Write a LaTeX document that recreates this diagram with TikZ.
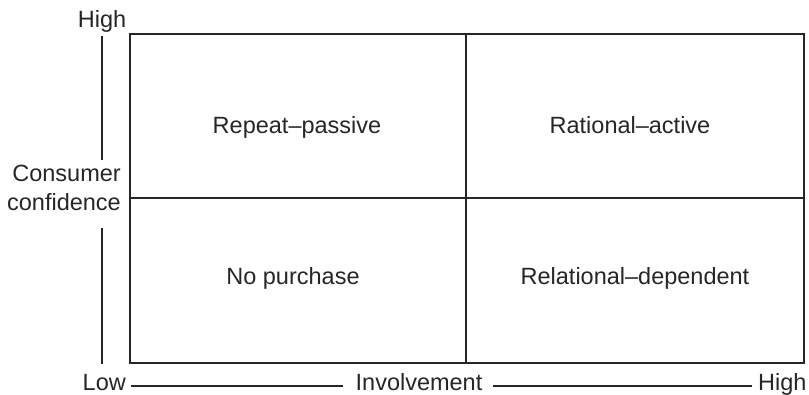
\documentclass[tikz,border=0pt]{standalone}
\usepackage{fontspec}
\setmainfont{Liberation Sans}
\begin{document}
\begin{tikzpicture}[x=1pt,y=-1pt,
  grid/.style={line width=2.4pt,draw=black!85},
  axis/.style={line width=2pt,draw=black!85},
  lbl/.style={inner sep=0pt,font=\fontsize{23.5}{28.5}\selectfont,text=black!85},
  cell/.style={lbl,anchor=base}]
\useasboundingbox (0,0) rectangle (809,394);
% matrix frame
\coordinate (tl) at (130,34);
\coordinate (br) at (804,363);
\coordinate (tm) at (466,34);
\coordinate (bm) at (466,363);
\coordinate (ml) at (130,198);
\coordinate (mr) at (804,198);
\draw[grid] (tl) rectangle (br);
\draw[grid] (tm) -- (bm);
\draw[grid] (ml) -- (mr);
% quadrant labels
\node[cell] (rp) at (297,133) {Repeat–passive};
\node[cell] (ra) at (630,133) {Rational–active};
\node[cell] (np) at (293,284) {No purchase};
\node[cell] (rd) at (635,284) {Relational–dependent};
% vertical axis
\node[lbl,anchor=base] (yhigh) at (102,27) {High};
\node[lbl,align=right,anchor=east] (ylab) at (121,188) {Consumer\\confidence};
\coordinate (y1) at (102,36);
\coordinate (y2) at (102,160);
\coordinate (y3) at (102,228);
\coordinate (y4) at (102,364);
\draw[axis] (y1) -- (y2);
\draw[axis] (y3) -- (y4);
% horizontal axis
\node[lbl,anchor=base east] (xlow) at (126,390) {Low};
\node[lbl,anchor=base] (xlab) at (419,390) {Involvement};
\node[lbl,anchor=base west] (xhigh) at (758,390) {High};
\coordinate (x1) at (131,386);
\coordinate (x2) at (343,386);
\coordinate (x3) at (493,386);
\coordinate (x4) at (752,386);
\draw[axis] (x1) -- (x2);
\draw[axis] (x3) -- (x4);
\end{tikzpicture}
\end{document}
